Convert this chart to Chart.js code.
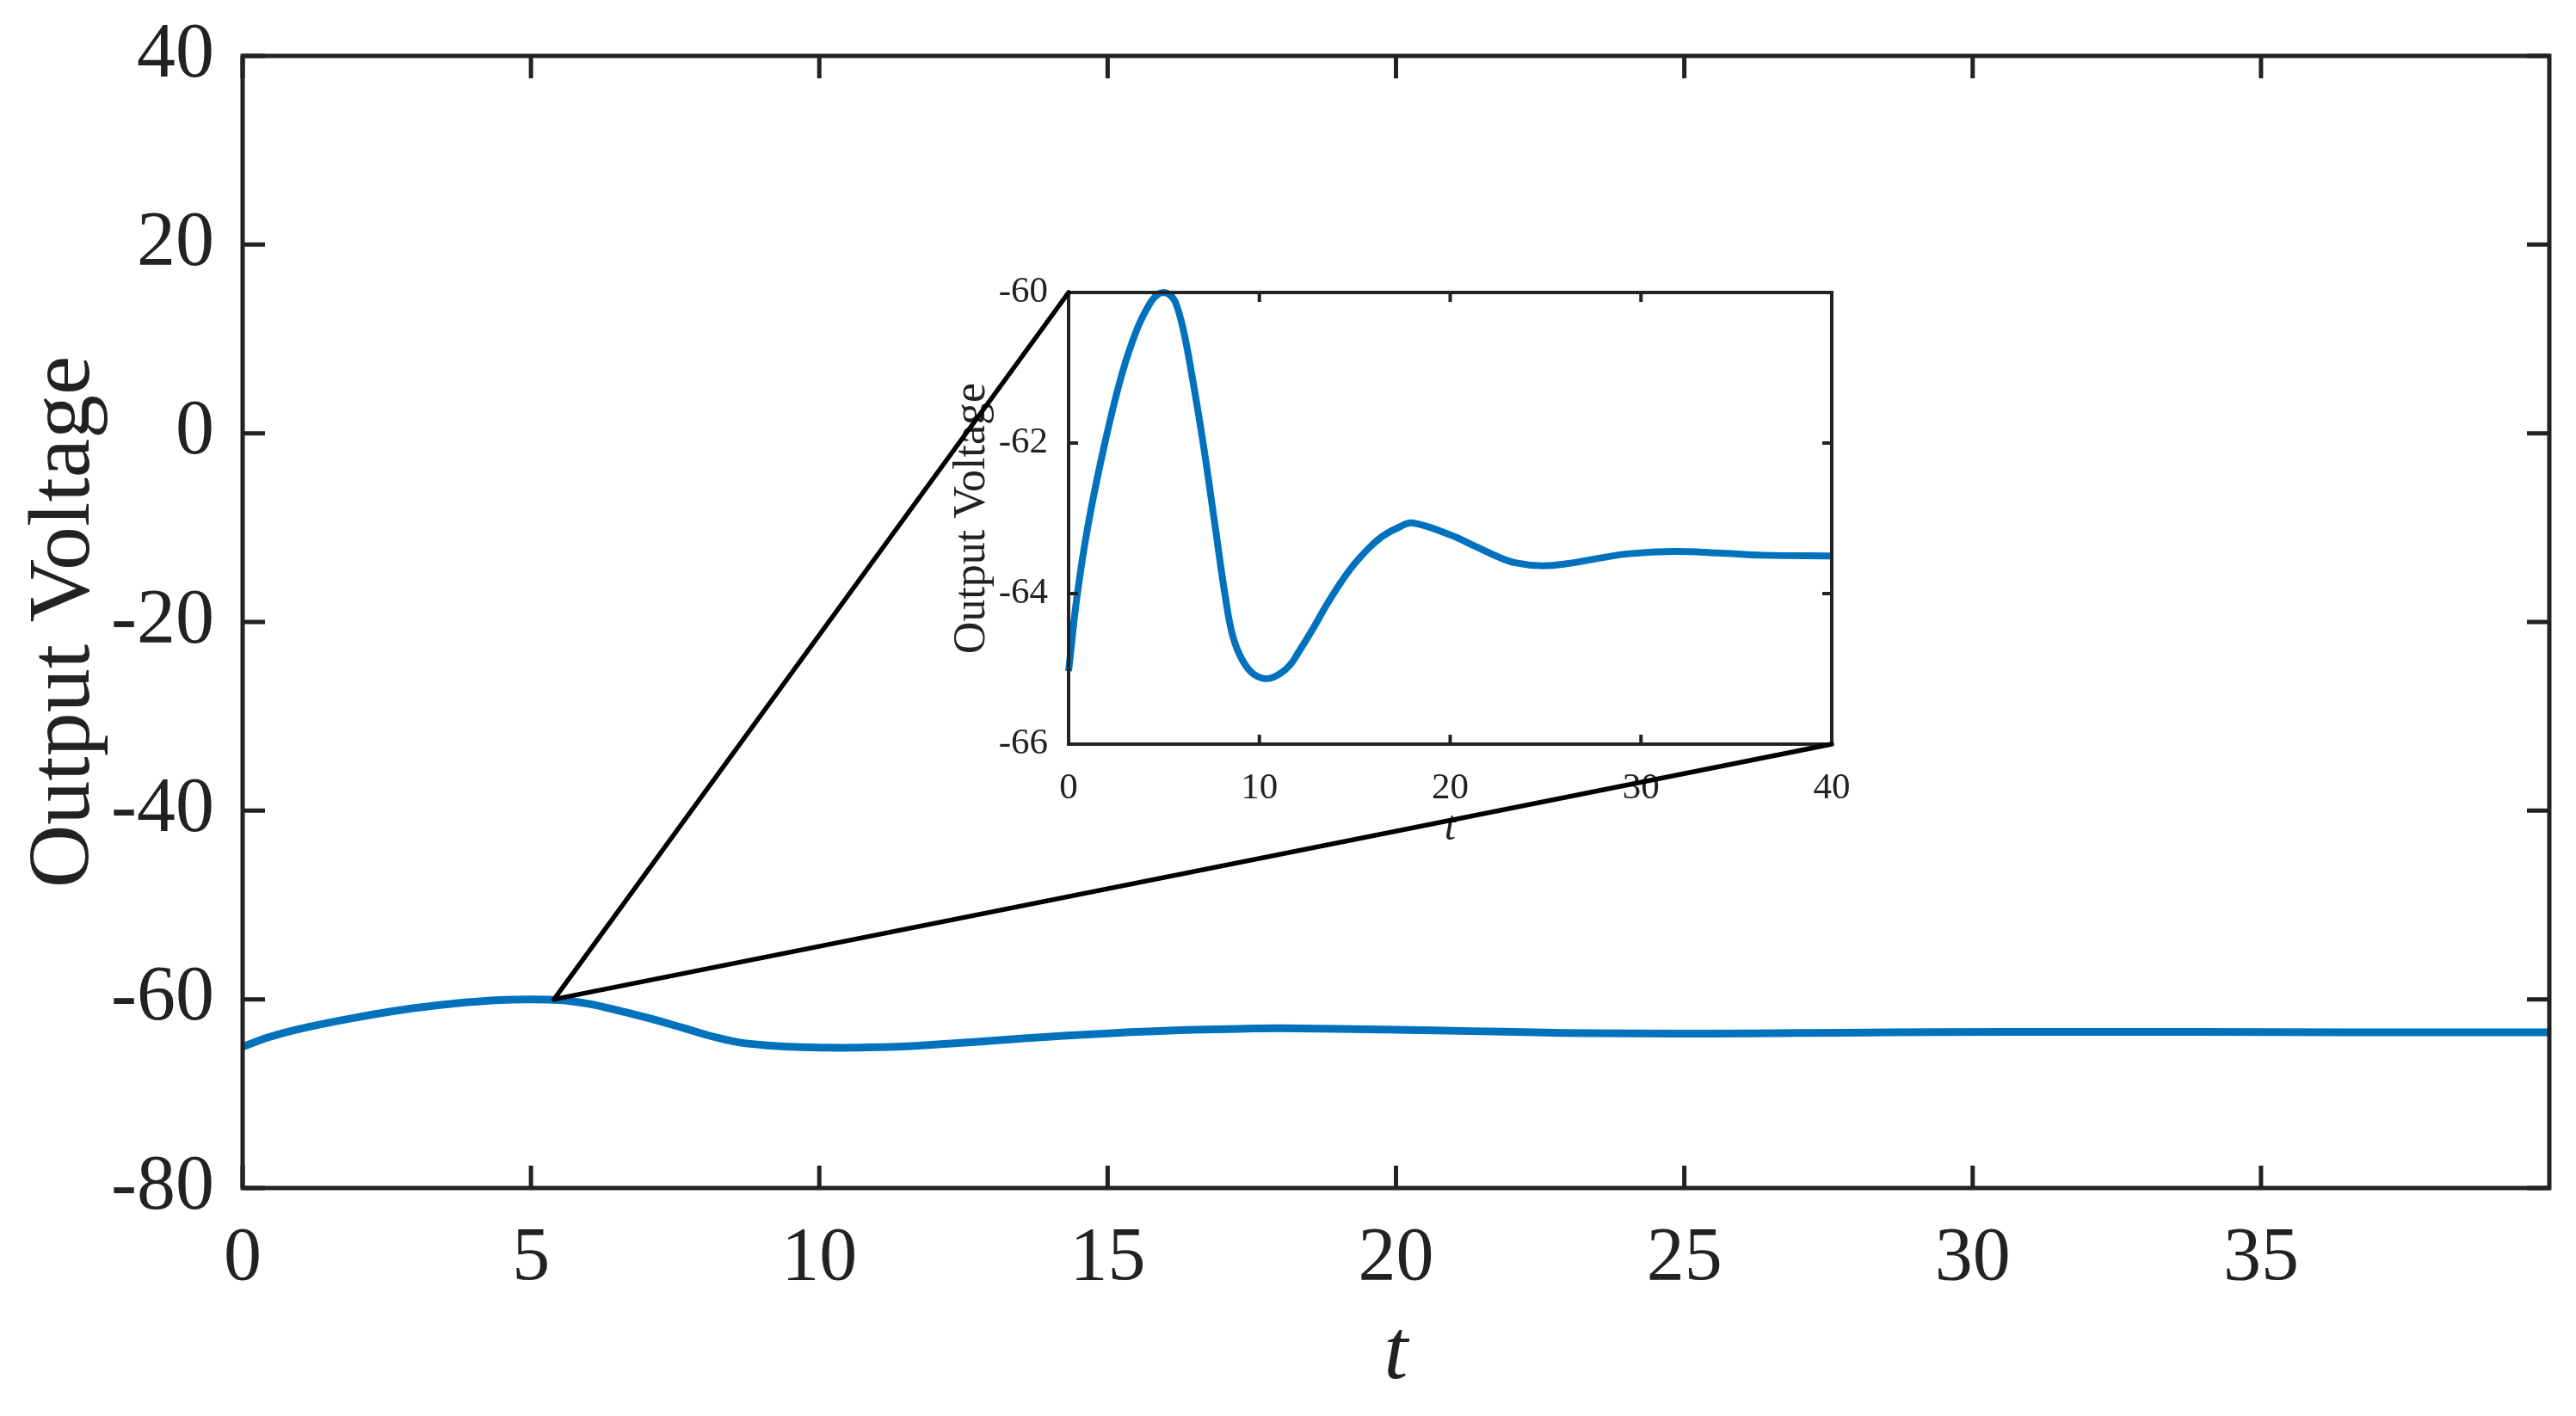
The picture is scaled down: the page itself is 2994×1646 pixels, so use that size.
<!DOCTYPE html>
<html>
<head>
<meta charset="utf-8">
<script src="https://cdn.jsdelivr.net/npm/chart.js@4/dist/chart.umd.min.js"></script>
<style>
  body { margin: 0; background: #fff; overflow: hidden; }
  #wrap { position: relative; width: 2994px; height: 1646px; }
  canvas { position: absolute; left: 0; top: 0; }
</style>
</head>
<body>
<div id="wrap">
  <canvas id="mainChart" width="2994" height="1646"></canvas>
  <canvas id="insetChart" width="2994" height="1646"></canvas>
</div>
<script>
// time samples and output voltage
const tValues = [0, 0.45, 1.05, 1.9, 2.8, 3.6, 4.3, 4.7, 5.0, 5.3, 5.6, 6.0, 6.45, 7.05, 7.65, 8.2, 8.6, 9.1, 9.7,
  10.4, 11.1, 11.6, 12.0, 12.8, 13.5, 14.3, 15.0, 15.8, 16.5, 17.3, 18.0, 20.0, 21.3, 22.4, 23.4, 24.8, 26.2,
  27.8, 29.4, 31.7, 34, 36.4, 40];
const vValues = [-65.03, -64.02, -63.05, -62.0, -61.08, -60.48, -60.13, -60.02, -60.0, -60.03, -60.13, -60.48,
  -61.08, -62.0, -63.05, -64.02, -64.56, -64.88, -65.07, -65.13, -65.06, -64.95, -64.8, -64.47, -64.16, -63.84,
  -63.6, -63.38, -63.23, -63.12, -63.06, -63.22, -63.37, -63.5, -63.59, -63.63, -63.6, -63.53, -63.47, -63.44,
  -63.46, -63.49, -63.5];

// tick labels
const mainXTicks = [0, 5, 10, 15, 20, 25, 30, 35];
const mainYTicks = [-80, -60, -40, -20, 0, 20, 40];
const insetXTicks = [0, 10, 20, 30, 40];
const insetYTicks = [-66, -64, -62, -60];

// point on the main curve that the zoom lines start from
const zoomAnchor = { t: 5.4, v: -60 };

const points = tValues.map((t, i) => ({ x: t, y: vValues[i] }));
const serif = "'Liberation Serif', 'Times New Roman', serif";
const lineBlue = "#0072BD";
const ink = "#222";

// MATLAB style box with inward ticks on all four sides
const boxTicks = {
  id: "boxTicks",
  afterDatasetsDraw(chart, args, opts) {
    const { ctx, chartArea: a, scales } = chart;
    ctx.save();
    ctx.strokeStyle = ink;
    ctx.lineWidth = opts.width;
    ctx.beginPath();
    scales.x.ticks.forEach((tk) => {
      const px = scales.x.getPixelForValue(tk.value);
      ctx.moveTo(px, a.bottom); ctx.lineTo(px, a.bottom - opts.len);
      ctx.moveTo(px, a.top); ctx.lineTo(px, a.top + opts.len);
    });
    scales.y.ticks.forEach((tk) => {
      const py = scales.y.getPixelForValue(tk.value);
      ctx.moveTo(a.left, py); ctx.lineTo(a.left + opts.len, py);
      ctx.moveTo(a.right, py); ctx.lineTo(a.right - opts.len, py);
    });
    ctx.stroke();
    ctx.strokeRect(a.left, a.top, a.right - a.left, a.bottom - a.top);
    ctx.restore();
  },
};

// lines joining the main curve to the inset box
const zoomLines = {
  id: "zoomLines",
  afterDraw(chart) {
    const { ctx, chartArea: a } = chart;
    const ax = mainChart.scales.x.getPixelForValue(zoomAnchor.t);
    const ay = mainChart.scales.y.getPixelForValue(zoomAnchor.v);
    ctx.save();
    ctx.strokeStyle = "#000";
    ctx.lineWidth = 5.5;
    ctx.lineCap = "round";
    ctx.beginPath();
    ctx.moveTo(ax, ay); ctx.lineTo(a.left, a.top);
    ctx.moveTo(ax, ay); ctx.lineTo(a.right, a.bottom);
    ctx.stroke();
    ctx.restore();
  },
};

function fixedTicks(values) {
  return (scale) => { scale.ticks = values.map((v) => ({ value: v })); };
}

const mainChart = new Chart(document.getElementById("mainChart"), {
  type: "line",
  data: {
    datasets: [{
      data: points,
      borderColor: lineBlue,
      borderWidth: 9,
      pointRadius: 0,
      tension: 0.4,
    }],
  },
  options: {
    responsive: false,
    animation: false,
    devicePixelRatio: 1,
    layout: { padding: { left: 0, top: 65, right: 31, bottom: 0 } },
    plugins: {
      legend: { display: false },
      tooltip: { enabled: false },
      boxTicks: { len: 26, width: 5 },
    },
    scales: {
      x: {
        type: "linear",
        min: 0,
        max: 40,
        afterBuildTicks: fixedTicks(mainXTicks),
        afterFit: (s) => { s.height = 265; },
        grid: { display: false },
        border: { display: false },
        ticks: { padding: 22, color: ink, font: { family: serif, size: 88 }, maxRotation: 0 },
        title: {
          display: true, text: "t", color: ink, padding: { top: 0, bottom: 10 },
          font: { family: serif, size: 100, style: "italic" },
        },
      },
      y: {
        type: "linear",
        min: -80,
        max: 40,
        afterBuildTicks: fixedTicks(mainYTicks),
        afterFit: (s) => { s.width = 282; },
        grid: { display: false },
        border: { display: false },
        ticks: { padding: 25, color: ink, font: { family: serif, size: 90, lineHeight: 0.8 } },
        title: {
          display: true, text: "Output Voltage", color: ink, padding: { top: 15, bottom: 0 },
          font: { family: serif, size: 102 },
        },
      },
    },
  },
  plugins: [boxTicks],
});

const insetChart = new Chart(document.getElementById("insetChart"), {
  type: "line",
  data: {
    datasets: [{
      data: points,
      borderColor: lineBlue,
      borderWidth: 8,
      pointRadius: 0,
      tension: 0.4,
      clip: 8,
    }],
  },
  options: {
    responsive: false,
    animation: false,
    devicePixelRatio: 1,
    layout: { padding: { left: 1080, top: 340, right: 865, bottom: 651 } },
    plugins: {
      legend: { display: false },
      tooltip: { enabled: false },
      boxTicks: { len: 11, width: 4 },
    },
    scales: {
      x: {
        type: "linear",
        min: 0,
        max: 40,
        afterBuildTicks: fixedTicks(insetXTicks),
        afterFit: (s) => { s.height = 130; },
        grid: { display: false },
        border: { display: false },
        ticks: { padding: 18, color: ink, font: { family: serif, size: 43 }, maxRotation: 0 },
        title: {
          display: true, text: "t", color: ink, padding: { top: 0, bottom: 3 },
          font: { family: serif, size: 48, style: "italic" },
        },
      },
      y: {
        type: "linear",
        min: -66,
        max: -60,
        afterBuildTicks: fixedTicks(insetYTicks),
        afterFit: (s) => { s.width = 162; },
        grid: { display: false },
        border: { display: false },
        ticks: { padding: 16, color: ink, font: { family: serif, size: 43 } },
        title: {
          display: true, text: "Output Voltage", color: ink, padding: { top: 19, bottom: 0 },
          font: { family: serif, size: 52 },
        },
      },
    },
  },
  plugins: [boxTicks, zoomLines],
});
</script>
</body>
</html>
